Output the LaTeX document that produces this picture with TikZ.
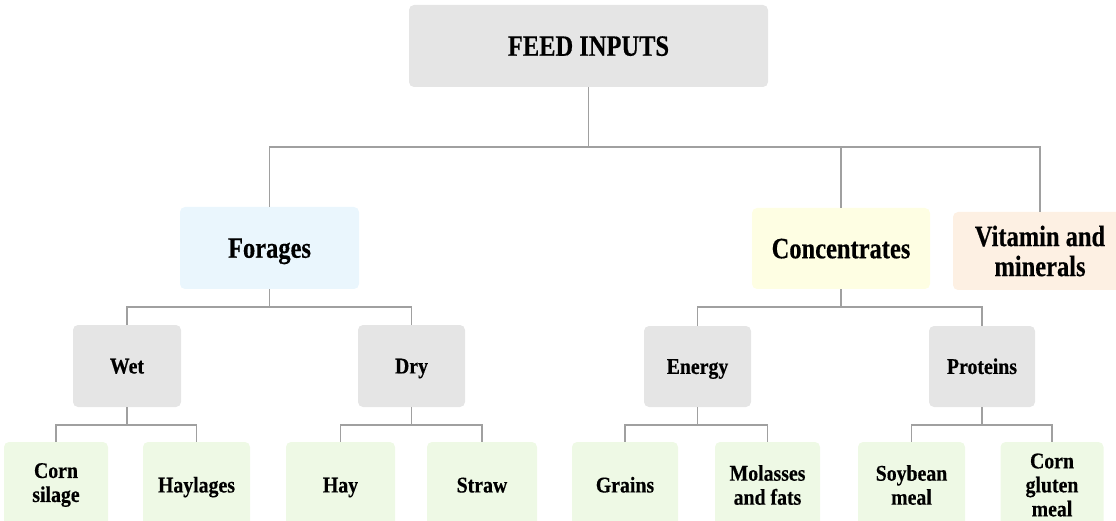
\documentclass[tikz,border=0pt]{standalone}
\usepackage{fontspec}
\setmainfont{Liberation Serif}
\newfontfamily\bigfont[FakeStretch=0.83,FakeBold=0.4]{Liberation Serif}
\newfontfamily\smallfont[FakeStretch=0.88,FakeBold=0.4]{Liberation Serif}
\definecolor{boxgray}{HTML}{E5E5E5}
\definecolor{forblue}{HTML}{EAF6FD}
\definecolor{concyel}{HTML}{FEFEE3}
\definecolor{vitpeach}{HTML}{FDF0E3}
\definecolor{leafgreen}{HTML}{EEF9E5}
\definecolor{linegray}{HTML}{A0A0A0}
\tikzset{
  box/.style={rectangle, rounded corners=5pt, inner sep=0pt, align=center, text=black},
  bigbox/.style={box, font=\bigfont\bfseries\fontsize{29.5}{30}\selectfont},
  smallbox/.style={box, font=\smallfont\bfseries\fontsize{22.5}{24}\selectfont},
  bigone/.style={text height=19.5pt, text depth=0pt},
  smallone/.style={text height=14.9pt, text depth=0pt},
  conn/.style={draw=linegray, line width=1.5pt},
}
\begin{document}
\begin{tikzpicture}[x=1pt,y=-1pt]
\useasboundingbox (0,0) rectangle (1116,521);
\clip (0,0) rectangle (1116,521);
% level 0
\node[bigbox, bigone, fill=boxgray, minimum width=359pt, minimum height=82pt] (top) at (588.5,46) {FEED INPUTS};
% level 1
\node[bigbox, bigone, fill=forblue, minimum width=179pt, minimum height=82pt] (forages) at (269.5,248) {Forages};
\node[bigbox, bigone, fill=concyel, minimum width=178pt, minimum height=81pt] (conc) at (841,248.5) {Concentrates};
\node[bigbox, fill=vitpeach, minimum width=174pt, minimum height=78pt] (vit) at (1040,251) {Vitamin and\\minerals};
% level 2
\node[smallbox, smallone, fill=boxgray, minimum width=108pt, minimum height=82pt] (wet) at (127,366) {Wet};
\node[smallbox, smallone, fill=boxgray, minimum width=107pt, minimum height=82pt] (dry) at (411.5,366) {Dry};
\node[smallbox, smallone, fill=boxgray, minimum width=107pt, minimum height=81pt] (energy) at (697.5,366.5) {Energy};
\node[smallbox, smallone, fill=boxgray, minimum width=106pt, minimum height=81pt] (proteins) at (982,366.5) {Proteins};
% level 3
\node[smallbox, fill=leafgreen, minimum width=104pt, minimum height=86pt] (cs) at (56,485) {Corn\\silage};
\node[smallbox, smallone, fill=leafgreen, minimum width=107pt, minimum height=86pt] (hl) at (196.5,485) {Haylages};
\node[smallbox, smallone, fill=leafgreen, minimum width=109pt, minimum height=86pt] (hay) at (340.5,485) {Hay};
\node[smallbox, smallone, fill=leafgreen, minimum width=110pt, minimum height=86pt] (straw) at (482,485) {Straw};
\node[smallbox, smallone, fill=leafgreen, minimum width=106pt, minimum height=86pt] (grains) at (625,485) {Grains};
\node[smallbox, fill=leafgreen, minimum width=105pt, minimum height=86pt] (mol) at (767.5,485) {Molasses\\and fats};
\node[smallbox, fill=leafgreen, minimum width=107pt, minimum height=86pt] (soy) at (911.5,485) {Soybean\\meal};
\node[smallbox, fill=leafgreen, minimum width=103pt, minimum height=86pt] (cg) at (1052,485) {Corn\\gluten\\meal};
% junctions
\coordinate (j0) at (588.5,147);
\coordinate (jF) at (269.5,307);
\coordinate (jC) at (841,307);
\coordinate (jW) at (127,425);
\coordinate (jD) at (411.5,425);
\coordinate (jE) at (697.5,425);
\coordinate (jP) at (982,425);
% connectors
\draw[conn] (top.south) -- (j0);
\draw[conn] (j0) -| (forages.north);
\draw[conn] (j0) -| (conc.north);
\draw[conn] (j0) -| (vit.north);
\draw[conn] (forages.south) -- (jF);
\draw[conn] (jF) -| (wet.north);
\draw[conn] (jF) -| (dry.north);
\draw[conn] (conc.south) -- (jC);
\draw[conn] (jC) -| (energy.north);
\draw[conn] (jC) -| (proteins.north);
\draw[conn] (wet.south) -- (jW);
\draw[conn] (jW) -| (cs.north);
\draw[conn] (jW) -| (hl.north);
\draw[conn] (dry.south) -- (jD);
\draw[conn] (jD) -| (hay.north);
\draw[conn] (jD) -| (straw.north);
\draw[conn] (energy.south) -- (jE);
\draw[conn] (jE) -| (grains.north);
\draw[conn] (jE) -| (mol.north);
\draw[conn] (proteins.south) -- (jP);
\draw[conn] (jP) -| (soy.north);
\draw[conn] (jP) -| (cg.north);
\end{tikzpicture}
\end{document}
